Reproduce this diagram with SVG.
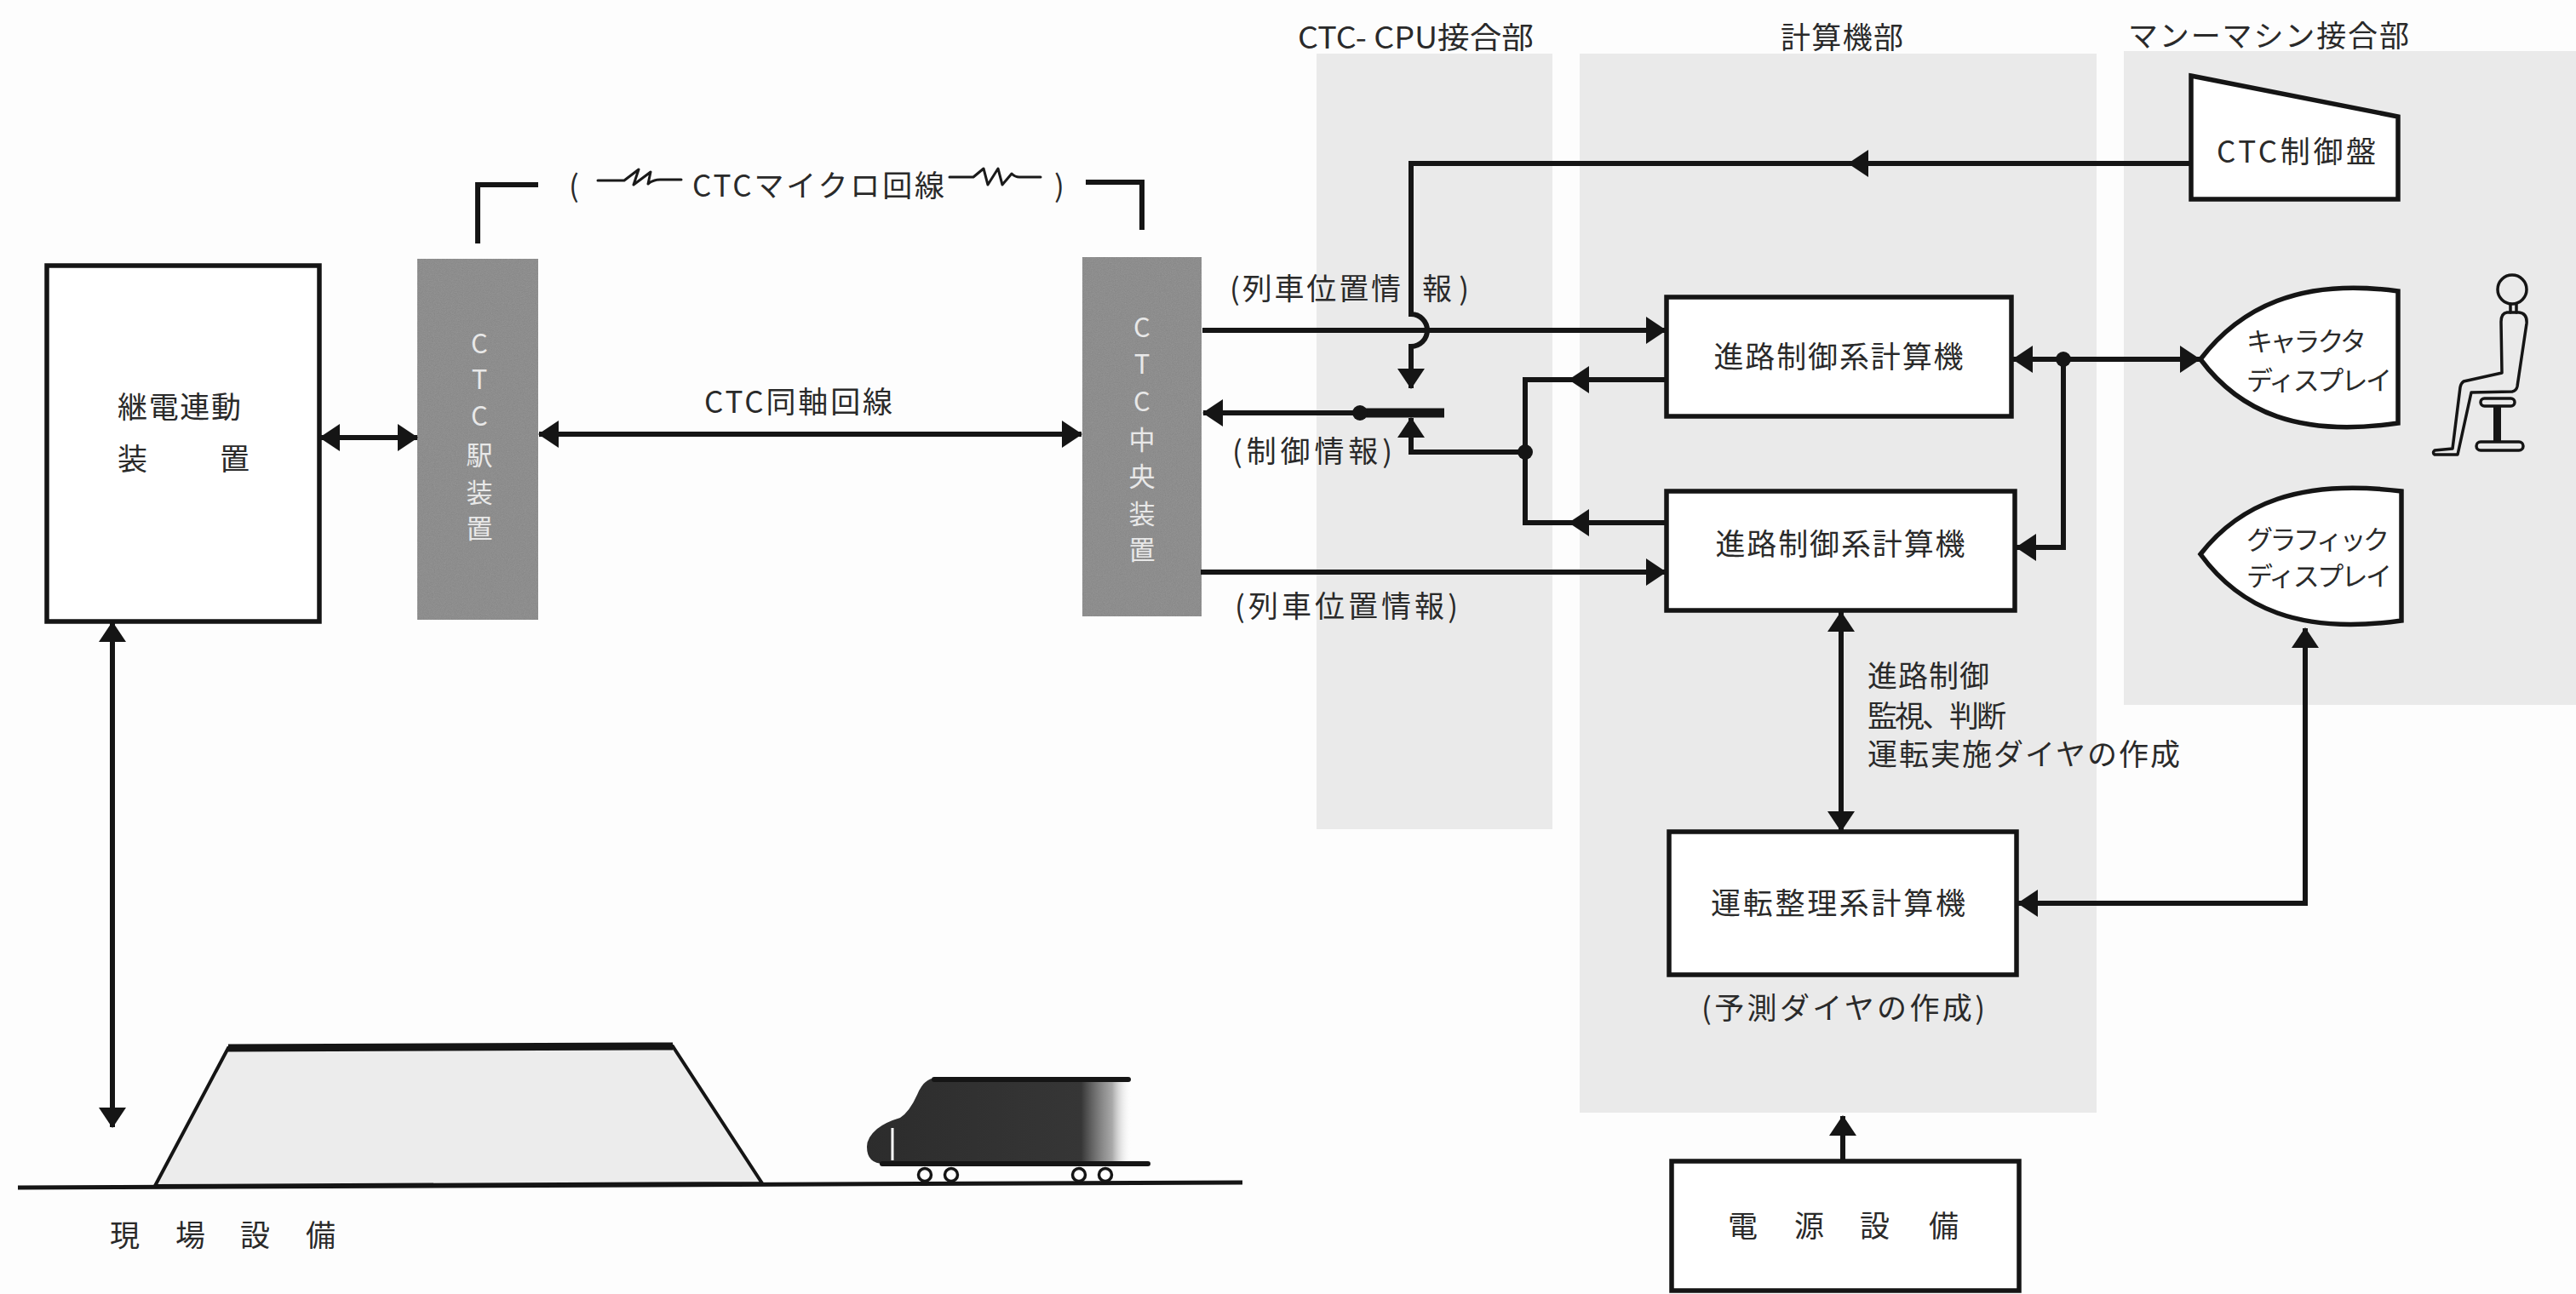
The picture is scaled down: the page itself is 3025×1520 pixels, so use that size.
<svg xmlns="http://www.w3.org/2000/svg" width="3025" height="1520" viewBox="0 0 3025 1520">
  <style>
    text { font-family: "Noto Sans CJK JP", "Noto Sans", sans-serif; fill: #2a2a2a; font-size: 35px; }
    .bar-t { fill: #e8e8e8; font-size: 31px; text-anchor: middle; }
    .disp { font-size: 31px; }
    .box { fill: #ffffff; stroke: #151515; stroke-width: 5.5; }
    .ln { fill: none; stroke: #151515; stroke-width: 6; }
    .thin { fill: none; stroke: #151515; stroke-width: 3.5; stroke-linejoin: round; stroke-linecap: round; }
    .sq { fill: none; stroke: #1a1a1a; stroke-width: 3; stroke-linejoin: round; stroke-linecap: round; }
    .zone { fill: #eaeaea; }
    .bar { fill: #999999; filter: url(#grain); }
    .dot { fill: #151515; }
  </style>
  <defs>
    <marker id="ah" viewBox="0 0 24 32" refX="23" refY="16" markerWidth="24" markerHeight="32" markerUnits="userSpaceOnUse" orient="auto-start-reverse">
      <path d="M0,0 L24,16 L0,32 Z" fill="#151515"/>
    </marker>
    <filter id="grain" x="0" y="0" width="100%" height="100%">
      <feTurbulence type="fractalNoise" baseFrequency="0.85" numOctaves="2" seed="7" result="n"/>
      <feColorMatrix in="n" type="luminanceToAlpha" result="a"/>
      <feComposite in="a" in2="SourceGraphic" operator="in" result="dots"/>
      <feComponentTransfer in="dots" result="d2">
        <feFuncA type="linear" slope="0.32"/>
      </feComponentTransfer>
      <feMerge>
        <feMergeNode in="SourceGraphic"/>
        <feMergeNode in="d2"/>
      </feMerge>
    </filter>
    <linearGradient id="trainFade" x1="1018" y1="0" x2="1349" y2="0" gradientUnits="userSpaceOnUse">
      <stop offset="0" stop-color="#2c2c2c"/>
      <stop offset="0.76" stop-color="#363636"/>
      <stop offset="0.87" stop-color="#707070" stop-opacity="0.6"/>
      <stop offset="0.94" stop-color="#ffffff" stop-opacity="0"/>
    </linearGradient>
  </defs>

  <rect x="0" y="0" width="3025" height="1520" fill="#fdfdfd"/>

  <!-- shaded zones behind the computer room -->
  <g id="zones">
    <rect class="zone" x="1546" y="63" width="277" height="911"/>
    <rect class="zone" x="1855" y="63" width="607" height="1244"/>
    <rect class="zone" x="2494" y="60" width="531" height="768"/>
    <text x="1524" y="57" textLength="277" lengthAdjust="spacingAndGlyphs">CTC- CPU接合部</text>
    <text x="2091" y="57" textLength="144">計算機部</text>
    <text x="2499" y="55" textLength="330">マンーマシン接合部</text>
  </g>

  <!-- interlocking device -->
  <g id="relay-interlocking">
    <rect class="box" x="55" y="312" width="320" height="418"/>
    <text x="138" y="491" textLength="145">継電連動</text>
    <text x="138 258" y="552">装置</text>
  </g>

  <!-- CTC station equipment -->
  <g id="ctc-station">
    <rect class="bar" x="490" y="304" width="142" height="424"/>
    <text class="bar-t" x="563" y="415">C</text>
    <text class="bar-t" x="563" y="457">T</text>
    <text class="bar-t" x="563" y="500">C</text>
    <text class="bar-t" x="563" y="546">駅</text>
    <text class="bar-t" x="563" y="590">装</text>
    <text class="bar-t" x="563" y="632">置</text>
  </g>

  <!-- CTC central equipment -->
  <g id="ctc-central">
    <rect class="bar" x="1271" y="302" width="140" height="422"/>
    <text class="bar-t" x="1341" y="396">C</text>
    <text class="bar-t" x="1341" y="439">T</text>
    <text class="bar-t" x="1341" y="483">C</text>
    <text class="bar-t" x="1341" y="528">中</text>
    <text class="bar-t" x="1341" y="571">央</text>
    <text class="bar-t" x="1341" y="615">装</text>
    <text class="bar-t" x="1341" y="657">置</text>
  </g>

  <!-- microwave link label -->
  <g id="microwave-link">
    <text x="668" y="231">(</text>
    <path class="sq" d="M702,212 H733 L750,199 L744,217 L764,202 L761,216 Q767,211 775,211 H800"/>
    <text x="813" y="231" textLength="296">CTCマイクロ回線</text>
    <path class="sq" d="M1115,208 H1143 L1155,198 L1160,217 L1172,198 L1177,217 L1188,204 Q1192,208 1197,208 H1222"/>
    <text x="1238" y="231">)</text>
  </g>

  <g id="coax-label">
    <text x="827" y="485" textLength="221">CTC同軸回線</text>
  </g>

  <!-- route control computers -->
  <g id="route-computer-1">
    <rect class="box" x="1957" y="349" width="405" height="140"/>
    <text x="2159" y="432" text-anchor="middle" textLength="293">進路制御系計算機</text>
  </g>
  <g id="route-computer-2">
    <rect class="box" x="1957" y="577" width="409" height="140"/>
    <text x="2161" y="652" text-anchor="middle" textLength="293">進路制御系計算機</text>
  </g>

  <g id="route-functions">
    <text x="2193" y="807" textLength="143">進路制御</text>
    <text x="2193" y="854" textLength="163">監視、判断</text>
    <text x="2193" y="899" textLength="367">運転実施ダイヤの作成</text>
  </g>

  <!-- traffic rescheduling computer -->
  <g id="rescheduling-computer">
    <rect class="box" x="1960" y="977" width="408" height="168"/>
    <text x="2009" y="1074" textLength="299">運転整理系計算機</text>
    <text x="1998" y="1197" textLength="333">(予測ダイヤの作成)</text>
  </g>

  <!-- power supply -->
  <g id="power-supply">
    <rect class="box" x="1963" y="1364" width="408" height="152"/>
    <text x="2029 2107 2184 2265" y="1453">電源設備</text>
  </g>

  <!-- CTC control desk -->
  <g id="ctc-desk">
    <path class="box" d="M2573,89 L2816,137 L2816,234 L2573,234 Z"/>
    <text x="2603" y="191" textLength="187">CTC制御盤</text>
  </g>

  <!-- character display -->
  <g id="character-display">
    <path class="box" d="M2584,422 C2630,362 2700,326 2816,342 L2816,497 C2700,514 2630,484 2584,422 Z"/>
    <text class="disp" x="2638" y="412" textLength="141">キャラクタ</text>
    <text class="disp" x="2638" y="458" textLength="171">ディスプレイ</text>
  </g>

  <!-- graphic display -->
  <g id="graphic-display">
    <path class="box" d="M2584,651 C2630,592 2700,562 2820,577 L2820,729 C2700,746 2630,714 2584,651 Z"/>
    <text class="disp" x="2638" y="645" textLength="168">グラフィック</text>
    <text class="disp" x="2638" y="688" textLength="171">ディスプレイ</text>
  </g>

  <!-- seated operator -->
  <g id="operator">
    <circle class="thin" cx="2950" cy="340" r="17"/>
    <path class="thin" d="M2948,357 V367 M2955,357 V367"/>
    <path class="thin" d="M2944,367 Q2937,368 2937,378 L2938,438 L2893,448 Q2890,450 2889,455 L2880,527 L2859,529 Q2856,532 2859,534 L2886,534 L2902,461 L2950,460 Q2955,459 2956,454 L2967,380 Q2968,368 2958,367 Z"/>
    <rect class="thin" x="2913" y="468" width="40" height="9" rx="4.5"/>
    <rect x="2928" y="477" width="9" height="42" fill="#151515"/>
    <rect class="thin" x="2908" y="519" width="55" height="10" rx="5"/>
  </g>

  <!-- wayside: embankment, track, train -->
  <g id="wayside">
    <polygon points="182,1393 268,1231 790,1229 895,1390" fill="#ececec" stroke="#151515" stroke-width="4"/>
    <path d="M268,1231 L790,1229" stroke="#151515" stroke-width="9"/>
    <path d="M21,1395 L1459,1389" stroke="#151515" stroke-width="5"/>
    <path d="M1100,1266 Q1085,1266 1077,1286 Q1068,1306 1057,1313 Q1040,1318 1030,1326 Q1018,1336 1018,1347 Q1018,1367 1038,1367 H1330 V1266 Z" fill="url(#trainFade)"/>
    <path d="M1097,1268 H1325" stroke="#151515" stroke-width="6" stroke-linecap="round"/>
    <path d="M1036,1367 H1348" stroke="#151515" stroke-width="6" stroke-linecap="round"/>
    <path d="M1048,1325 V1363" stroke="#ffffff" stroke-width="3"/>
    <g fill="#ffffff" stroke="#151515" stroke-width="3.5">
      <circle cx="1086" cy="1380" r="7.5"/>
      <circle cx="1117" cy="1380" r="7.5"/>
      <circle cx="1267" cy="1380" r="7.5"/>
      <circle cx="1298" cy="1380" r="7.5"/>
    </g>
    <text x="129 206 282 359" y="1464">現場設備</text>
  </g>

  <!-- signal and data paths -->
  <g id="connectors">
    <path class="ln" d="M376,514 H490" marker-start="url(#ah)" marker-end="url(#ah)"/>
    <path class="ln" d="M633,510 H1270" marker-start="url(#ah)" marker-end="url(#ah)"/>
    <path class="ln" d="M132,731 V1324" marker-start="url(#ah)" marker-end="url(#ah)"/>
    <path class="ln" d="M561,286 V217 H632"/>
    <path class="ln" d="M1275,214 H1341 V270"/>

    <!-- control desk to CTC central (hops over the train position line) -->
    <path class="ln" d="M2573,192 H2171" marker-end="url(#ah)"/>
    <path class="ln" d="M2171,192 H1657 V369 A19,19 0 0 1 1657,407 V456" marker-end="url(#ah)"/>

    <!-- train position information -->
    <path class="ln" d="M1412,388 H1956" marker-end="url(#ah)"/>
    <text x="1444" y="352" textLength="201">(列車位置情</text>
    <text x="1670" y="352" textLength="55">報)</text>
    <path class="ln" d="M1410,672 H1956" marker-end="url(#ah)"/>
    <text x="1450" y="725" textLength="262">(列車位置情報)</text>

    <!-- control information bus -->
    <path class="ln" d="M1696,485 H1413" marker-end="url(#ah)"/>
    <path d="M1597,485 H1696" stroke="#151515" stroke-width="11"/>
    <circle class="dot" cx="1597" cy="485" r="9"/>
    <text x="1447" y="543" textLength="188">(制御情報)</text>
    <path class="ln" d="M1791,531 H1657 V491" marker-end="url(#ah)"/>
    <circle class="dot" cx="1791" cy="531" r="9"/>
    <path class="ln" d="M1957,446 H1843" marker-end="url(#ah)"/>
    <path class="ln" d="M1957,614 H1843" marker-end="url(#ah)"/>
    <path class="ln" d="M1846,446 H1791 V614 H1846"/>

    <!-- computers to displays -->
    <path class="ln" d="M2423,422 H2364" marker-end="url(#ah)"/>
    <path class="ln" d="M2423,422 H2583" marker-end="url(#ah)"/>
    <path class="ln" d="M2423,422 V643 H2368" marker-end="url(#ah)"/>
    <circle class="dot" cx="2423" cy="422" r="9"/>

    <path class="ln" d="M2162,719 V976" marker-start="url(#ah)" marker-end="url(#ah)"/>
    <path class="ln" d="M2707,738 V1061 H2370" marker-start="url(#ah)" marker-end="url(#ah)"/>
    <path class="ln" d="M2164,1364 V1311" marker-end="url(#ah)"/>
  </g>
</svg>
